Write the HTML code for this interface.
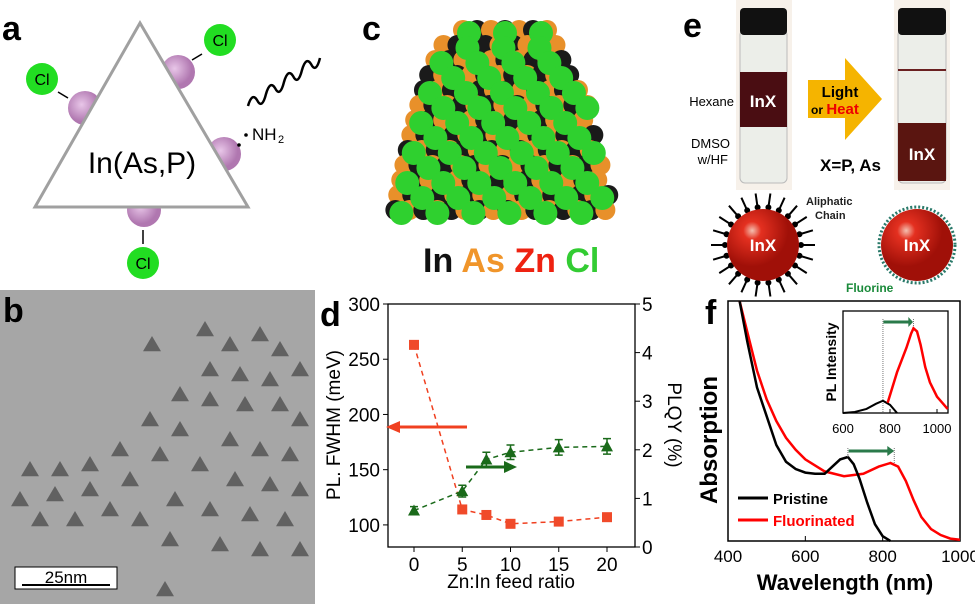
<!DOCTYPE html>
<html><head><meta charset="utf-8"><style>
body{margin:0;background:#fff;width:975px;height:604px;overflow:hidden;font-family:"Liberation Sans",sans-serif}
svg{position:absolute;left:0;top:0}
</style></head><body>
<svg id="fig" width="975" height="604" viewBox="0 0 975 604">
<defs>
<radialGradient id="pg" cx="40%" cy="40%"><stop offset="0" stop-color="#e8c6e8"/><stop offset="1" stop-color="#b077b0"/></radialGradient>
<radialGradient id="rg" cx="35%" cy="30%"><stop offset="0" stop-color="#f4c0b0"/><stop offset="0.25" stop-color="#e43020"/><stop offset="1" stop-color="#a01008"/></radialGradient>
</defs>
<!-- panel a -->
<g>
<text x="2" y="40" font-size="34" font-weight="bold">a</text>
<line x1="58" y1="92" x2="68" y2="98" stroke="#000" stroke-width="1.5"/><line x1="192" y1="60" x2="202" y2="54" stroke="#000" stroke-width="1.5"/>
<line x1="143" y1="230" x2="143" y2="244" stroke="#000" stroke-width="1.5"/>
<circle cx="85" cy="108" r="17" fill="url(#pg)"/><circle cx="178" cy="72" r="17" fill="url(#pg)"/>
<circle cx="224" cy="154" r="17" fill="url(#pg)"/><circle cx="144" cy="210" r="17" fill="url(#pg)"/>
<polygon points="35,207 248,207 140,23" fill="#fff" stroke="#a0a0a0" stroke-width="3"/>
<circle cx="42" cy="79" r="16" fill="#2d2"/><text x="42" y="85" font-size="16" text-anchor="middle">Cl</text>
<circle cx="220" cy="40" r="16" fill="#2d2"/><text x="220" y="46" font-size="16" text-anchor="middle">Cl</text>
<circle cx="143" cy="263" r="16" fill="#2d2"/><text x="143" y="269" font-size="16" text-anchor="middle">Cl</text>
<text x="142" y="173" font-size="30" text-anchor="middle">In(As,P)</text>
<text x="252" y="140" font-size="17">NH</text><text x="278" y="143" font-size="11">2</text>
<circle cx="239" cy="145" r="1.8"/><circle cx="246" cy="135" r="1.8"/>
<path d="M248,106 q4,-14 9,-6 q5,10 9,-6 q4,-14 9,-6 q5,10 9,-6 q4,-14 9,-6 q5,10 9,-6 q4,-14 9,-6 q5,10 9,-6" fill="none" stroke="#000" stroke-width="2.5"/>
</g>
<!-- panel b TEM -->
<g>
<rect x="0" y="290" width="315" height="314" fill="#a6a6a6"/>
<g id="tem" fill="#555" opacity="0.85"></g>
<text x="3" y="322" font-size="34" font-weight="bold">b</text>
<rect x="15" y="567" width="102" height="22" fill="#fff" stroke="#000"/>
<line x1="22" y1="585" x2="110" y2="585" stroke="#000" stroke-width="2"/>
<text x="66" y="583" font-size="17" text-anchor="middle">25nm</text>
</g>
<!-- panel c -->
<g>
<text x="362" y="40" font-size="34" font-weight="bold">c</text>
<g id="cluster"></g>
<text x="423" y="272" font-size="34" font-weight="bold"><tspan fill="#111">In </tspan><tspan fill="#f0952a">As </tspan><tspan fill="#e21">Zn </tspan><tspan fill="#3c3">Cl</tspan></text>
</g>
<!-- panel e -->
<g>
<text x="683" y="37" font-size="34" font-weight="bold">e</text>
<rect x="736" y="0" width="56" height="190" fill="#f7f1ea"/>
<rect x="740" y="30" width="47" height="153" rx="5" fill="#eceee9" stroke="#bbb"/>
<rect x="740" y="8" width="47" height="27" rx="4" fill="#111"/>
<rect x="740" y="72" width="47" height="55" fill="#4a0d12"/>
<text x="763" y="107" font-size="17" fill="#fff" font-weight="bold" text-anchor="middle">InX</text>
<text x="734" y="106" font-size="13" text-anchor="end">Hexane</text>
<text x="730" y="148" font-size="13" text-anchor="end">DMSO</text><text x="728" y="164" font-size="13" text-anchor="end">w/HF</text>
<polygon points="808,80 845,80 845,58 882,99 845,140 845,118 808,118" fill="#f5b400"/>
<text x="840" y="97" font-size="15" font-weight="bold" text-anchor="middle">Light</text>
<text x="811" y="114" font-size="12" font-weight="bold">or <tspan fill="#e00" font-size="15">Heat</tspan></text>
<text x="820" y="171" font-size="17" font-weight="bold">X=P, As</text>
<rect x="894" y="0" width="56" height="190" fill="#f7f1ea"/>
<rect x="898" y="30" width="48" height="153" rx="5" fill="#eceee9" stroke="#bbb"/>
<rect x="898" y="8" width="48" height="27" rx="4" fill="#111"/>
<line x1="898" y1="70" x2="946" y2="70" stroke="#6a2020" stroke-width="2"/>
<rect x="898" y="123" width="48" height="58" fill="#5a1510"/>
<text x="922" y="160" font-size="17" fill="#fff" font-weight="bold" text-anchor="middle">InX</text>
<g id="spikes" stroke="#000" stroke-width="2"></g>
<circle cx="763" cy="245" r="36" fill="url(#rg)"/>
<text x="763" y="251" font-size="17" fill="#fff" font-weight="bold" text-anchor="middle">InX</text>
<text x="806" y="205" font-size="11" font-weight="bold" fill="#222">Aliphatic</text><text x="815" y="219" font-size="11" font-weight="bold" fill="#222">Chain</text>
<circle cx="917" cy="245" r="38" fill="none" stroke="#2a7a6a" stroke-width="3" stroke-dasharray="2 2"/>
<circle cx="917" cy="245" r="36" fill="url(#rg)"/>
<text x="917" y="251" font-size="17" fill="#fff" font-weight="bold" text-anchor="middle">InX</text>
<text x="846" y="292" font-size="12" font-weight="bold" fill="#1a8a3a">Fluorine</text>
</g>
<!-- panel d -->
<g id="pd">
<text x="320" y="326" font-size="34" font-weight="bold">d</text>
</g>
<!-- panel f -->
<g id="pf">
<text x="705" y="324" font-size="34" font-weight="bold">f</text>
</g>
</svg>
<script>
// ---- Panel d data ----
const dX = [0, 5, 7.5, 10, 15, 20];
const dFwhm = [263, 114, 109, 101, 103, 107];
const dPlqy = [0.75, 1.15, 1.8, 1.95, 2.05, 2.07];
const dPlqyErr = [0.08, 0.12, 0.15, 0.15, 0.16, 0.16];
const dXTicks = [0, 5, 10, 15, 20];
const dLTicks = [100, 150, 200, 250, 300];
const dRTicks = [0, 1, 2, 3, 4, 5];
// ---- Panel f data ----
const fWl = [430, 450, 475, 500, 525, 550, 575, 600, 625, 650, 670, 690, 710, 725, 740, 760, 780, 800, 820];
const fPristine = [1.0, 0.83, 0.64, 0.52, 0.4, 0.33, 0.3, 0.285, 0.28, 0.28, 0.31, 0.34, 0.35, 0.32, 0.26, 0.16, 0.07, 0.02, 0.0];
const fWl2 = [430, 450, 475, 500, 525, 550, 575, 600, 650, 700, 750, 790, 820, 840, 860, 880, 900, 925, 950, 975, 1000];
const fFluor = [1.0, 0.87, 0.71, 0.59, 0.5, 0.43, 0.38, 0.34, 0.29, 0.27, 0.28, 0.31, 0.325, 0.31, 0.25, 0.17, 0.1, 0.05, 0.025, 0.01, 0.005];
const fXTicks = [400, 600, 800, 1000];
const plWl = [600, 650, 700, 740, 770, 800, 830];
const plPristine = [0.0, 0.01, 0.04, 0.09, 0.12, 0.08, 0.0];
const plWl2 = [790, 810, 830, 850, 870, 890, 900, 915, 930, 950, 970, 1000, 1030, 1045];
const plFluor = [0.1, 0.25, 0.4, 0.52, 0.64, 0.78, 0.83, 0.8, 0.67, 0.45, 0.3, 0.16, 0.08, 0.04];
const plXTicks = [600, 800, 1000];

const NS = "http://www.w3.org/2000/svg";
function mk(parent, tag, attrs, text){const e=document.createElementNS(NS,tag);for(const k in attrs)e.setAttribute(k,attrs[k]);if(text!==undefined)e.textContent=text;parent.appendChild(e);return e;}

// TEM blobs
(function(){const g=document.getElementById('tem');
const pts=[[152,345],[205,330],[230,345],[260,335],[280,350],[240,375],[210,370],[270,380],[300,370],[180,395],[210,400],[245,405],[280,405],[300,420],[150,420],[180,430],[120,450],[160,455],[90,465],[60,470],[30,470],[20,500],[55,495],[90,490],[130,480],[230,440],[260,450],[290,455],[200,465],[235,480],[270,485],[300,490],[175,500],[40,520],[75,520],[110,510],[210,510],[250,515],[285,520],[140,520],[170,540],[220,545],[260,550],[300,550],[165,590]];
for(const p of pts){const s=9;mk(g,'polygon',{points:`${p[0]-s},${p[1]+s*0.7} ${p[0]+s},${p[1]+s*0.7} ${p[0]},${p[1]-s}`});}})();
// cluster
(function(){const g=document.getElementById('cluster');
const back=['#1a1a1a','#e8902a'];let i=0;
const rows=[];for(let y=30;y<=212;y+=15){const f=(y-30)/182;const half=42+68*Math.sqrt(f);rows.push([y,half]);}
for(const [y,half] of rows){for(let x=505-half;x<=505+half;x+=14){i++;mk(g,'circle',{cx:x,cy:y,r:10,fill:back[(i+Math.round(y/15))%2]});}}
let r=0;for(const [y,half] of rows){r++;for(let x=505-half+(r%2?6:24);x<=505+half;x+=36){mk(g,'circle',{cx:x,cy:y+3,r:12,fill:'#2fd02f'});}}
})();
// spikes
(function(){const g=document.getElementById('spikes');for(let k=0;k<22;k++){const a=k/22*2*Math.PI;mk(g,'line',{x1:763+36*Math.cos(a),y1:245+36*Math.sin(a),x2:763+52*Math.cos(a),y2:245+52*Math.sin(a)});mk(g,'circle',{cx:763+38*Math.cos(a),cy:245+38*Math.sin(a),r:2});}})();

// ---- Panel d ----
(function(){const g=document.getElementById('pd');
const L=388,R=635,T=304,B=547;
const xs=v=>414+(v-0)*(607-414)/20;
const yl=v=>B-(v-80)*(B-T)/220;
const yr=v=>B-v*(B-T)/5;
mk(g,'rect',{x:L,y:T,width:R-L,height:B-T,fill:'none',stroke:'#000','stroke-width':1.3});
for(const t of dXTicks){mk(g,'line',{x1:xs(t),y1:B,x2:xs(t),y2:B+5,stroke:'#000'});
const e=mk(g,'text',{x:xs(t),y:B+24,'font-size':19,'text-anchor':'middle'},t);}
for(const t of dLTicks){mk(g,'line',{x1:L-5,y1:yl(t),x2:L,y2:yl(t),stroke:'#000'});
const e=mk(g,'text',{x:L-8,y:yl(t)+7,'font-size':19,'text-anchor':'end'},t);}
for(const t of dRTicks){mk(g,'line',{x1:R,y1:yr(t),x2:R+5,y2:yr(t),stroke:'#000'});
const e=mk(g,'text',{x:R+7,y:yr(t)+7,'font-size':19},t);}
let t=mk(g,'text',{x:511,y:588,'font-size':19,'text-anchor':'middle'},'Zn:In feed ratio');
t=mk(g,'text',{x:0,y:0,'font-size':19,'text-anchor':'middle',transform:'translate(340,425) rotate(-90)'},'PL. FWHM (meV)');
t=mk(g,'text',{x:0,y:0,'font-size':19,'text-anchor':'middle',transform:'translate(668,425) rotate(90)'},'PLQY (%)');
let p=mk(g,'polyline',{points:dX.map((x,i)=>xs(x)+','+yl(dFwhm[i])).join(' '),fill:'none',stroke:'#f04020','stroke-width':1.5,'stroke-dasharray':'5 4'});
p=mk(g,'polyline',{points:dX.map((x,i)=>xs(x)+','+yr(dPlqy[i])).join(' '),fill:'none',stroke:'#1a6a1a','stroke-width':1.5,'stroke-dasharray':'5 4'});
dX.forEach((x,i)=>{const r=mk(g,'rect',{x:xs(x)-5,y:yl(dFwhm[i])-5,width:10,height:10,fill:'#f04a2a'});});
dX.forEach((x,i)=>{const cx=xs(x),cy=yr(dPlqy[i]),e=dPlqyErr[i];
mk(g,'path',{d:`M${cx},${yr(dPlqy[i]+e)}V${yr(dPlqy[i]-e)}M${cx-4},${yr(dPlqy[i]+e)}h8M${cx-4},${yr(dPlqy[i]-e)}h8`,stroke:'#1a6a1a','stroke-width':1.5});
const m=mk(g,'polygon',{points:`${cx-6},${cy+5} ${cx+6},${cy+5} ${cx},${cy-6}`,fill:'#1a6a1a'});});
mk(g,'line',{x1:396,y1:427,x2:467,y2:427,stroke:'#f04020','stroke-width':3});
mk(g,'polygon',{points:'386,427 400,421 400,433',fill:'#f04020'});
mk(g,'line',{x1:466,y1:467,x2:508,y2:467,stroke:'#1a6a1a','stroke-width':3});
mk(g,'polygon',{points:'517,467 504,461 504,473',fill:'#1a6a1a'});
})();

// ---- Panel f ----
(function(){const g=document.getElementById('pf');
const L=728,R=960,T=301,B=541;
const xs=v=>L+(v-400)*(R-L)/600;
const ys=v=>B-v*(B-T);
mk(g,'rect',{x:L,y:T,width:R-L,height:B-T,fill:'none',stroke:'#000','stroke-width':1.5});
for(const t of fXTicks){mk(g,'line',{x1:xs(t),y1:B,x2:xs(t),y2:B-5,stroke:'#000'});
const e=mk(g,'text',{x:xs(t),y:B+21,'font-size':17,'text-anchor':'middle'},t);}
let t=mk(g,'text',{x:845,y:590,'font-size':22,'font-weight':'bold','text-anchor':'middle'},'Wavelength (nm)');
t=mk(g,'text',{x:0,y:0,'font-size':24,'font-weight':'bold','text-anchor':'middle',transform:'translate(717,440) rotate(-90)'},'Absorption');
const clip=v=>Math.max(T,v);
let p=mk(g,'polyline',{points:fWl2.map((x,i)=>xs(x)+','+clip(ys(fFluor[i]))).join(' '),fill:'none',stroke:'#f00','stroke-width':2.5});
p=mk(g,'polyline',{points:fWl.map((x,i)=>xs(x)+','+clip(ys(fPristine[i]))).join(' '),fill:'none',stroke:'#000','stroke-width':2.5});
mk(g,'line',{x1:xs(710),y1:448,x2:xs(710),y2:458,stroke:'#777','stroke-dasharray':'1 1'});
mk(g,'line',{x1:xs(830),y1:448,x2:xs(830),y2:463,stroke:'#777','stroke-dasharray':'1 1'});
mk(g,'line',{x1:xs(712),y1:451,x2:xs(815),y2:451,stroke:'#2a7a4a','stroke-width':3});
mk(g,'polygon',{points:`${xs(830)},451 ${xs(812)},446 ${xs(812)},456`,fill:'#2a7a4a'});
mk(g,'line',{x1:738,y1:498,x2:768,y2:498,stroke:'#000','stroke-width':3});
t=mk(g,'text',{x:773,y:504,'font-size':15,'font-weight':'bold'},'Pristine');
mk(g,'line',{x1:738,y1:520,x2:768,y2:520,stroke:'#f00','stroke-width':3});
t=mk(g,'text',{x:773,y:526,'font-size':15,'font-weight':'bold',fill:'#f00'},'Fluorinated');
// inset
const iL=843,iR=948,iT=311,iB=413;
const ix=v=>iL+(v-600)*(937-iL)/400;
const iy=v=>iB-v*(iB-iT);
const ig=mk(g,'g',{});
mk(ig,'rect',{x:iL,y:iT,width:iR-iL,height:iB-iT,fill:'#fff',stroke:'#000','stroke-width':1.3});
for(const tk of plXTicks){mk(ig,'line',{x1:ix(tk),y1:iB,x2:ix(tk),y2:iB-4,stroke:'#000'});
const e=mk(ig,'text',{x:ix(tk),y:iB+20,'font-size':13,'text-anchor':'middle'},tk);}
t=mk(ig,'text',{x:0,y:0,'font-size':14,'font-weight':'bold','text-anchor':'middle',transform:'translate(836,362) rotate(-90)'},'PL Intensity');
mk(ig,'line',{x1:ix(770),y1:iT+8,x2:ix(770),y2:iB,stroke:'#777','stroke-dasharray':'1 1'});
mk(ig,'line',{x1:ix(900),y1:iT+8,x2:ix(900),y2:iT+20,stroke:'#777','stroke-dasharray':'1 1'});
p=mk(ig,'polyline',{points:plWl.map((x,i)=>ix(x)+','+iy(plPristine[i])).join(' '),fill:'none',stroke:'#000','stroke-width':2});
p=mk(ig,'polyline',{points:plWl2.map((x,i)=>ix(x)+','+iy(plFluor[i])).join(' '),fill:'none',stroke:'#f00','stroke-width':2.5});
mk(ig,'line',{x1:ix(772),y1:322,x2:ix(880),y2:322,stroke:'#2a7a4a','stroke-width':3});
mk(ig,'polygon',{points:`${ix(898)},322 ${ix(878)},317 ${ix(878)},327`,fill:'#2a7a4a'});
})();
</script>
</body></html>
